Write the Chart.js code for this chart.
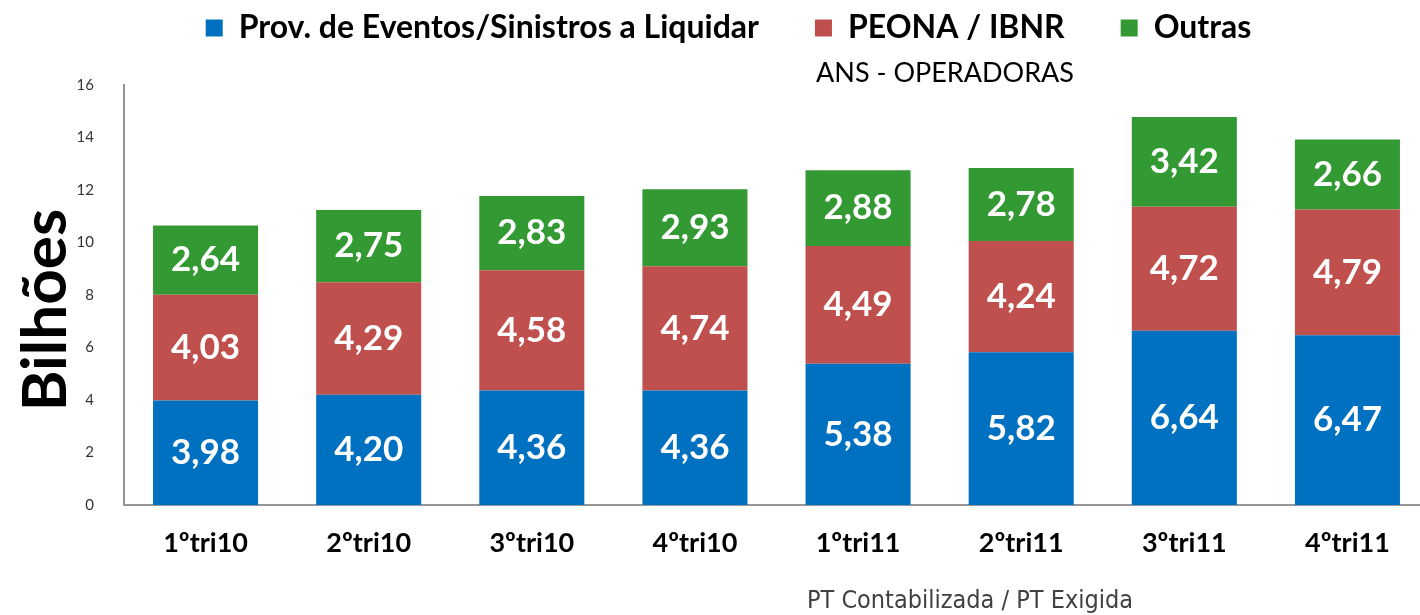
<!DOCTYPE html>
<html>
<head>
<meta charset="utf-8">
<script src="https://cdn.jsdelivr.net/npm/chart.js@4"></script>
<style>
  html, body { margin: 0; padding: 0; background: #fff; overflow: hidden; }
  /* the plot runs a few pixels past the right edge of the window in the original */
  #wrap { width: 1429px; height: 615px; }
</style>
</head>
<body>
<div id="wrap"><canvas id="ptChart"></canvas></div>
<script>
// data (bilhões)
const quarters = ['1ºtri10', '2ºtri10', '3ºtri10', '4ºtri10', '1ºtri11', '2ºtri11', '3ºtri11', '4ºtri11'];
const provEventos = [3.98, 4.20, 4.36, 4.36, 5.38, 5.82, 6.64, 6.47];
const peonaIbnr = [4.03, 4.29, 4.58, 4.74, 4.49, 4.24, 4.72, 4.79];
const outras = [2.64, 2.75, 2.83, 2.93, 2.88, 2.78, 3.42, 2.66];
const yTicks = [0, 2, 4, 6, 8, 10, 12, 14, 16];

const FONT = 'Lato, "Open Sans", sans-serif';

// white value labels in the middle of each segment
const segmentLabels = {
    id: 'segmentLabels',
    afterDatasetsDraw(chart) {
        const ctx = chart.ctx;
        ctx.save();
        ctx.fillStyle = '#ffffff';
        ctx.font = 'bold 35px ' + FONT;
        ctx.textAlign = 'center';
        ctx.textBaseline = 'middle';
        chart.data.datasets.forEach((ds, i) => {
            const meta = chart.getDatasetMeta(i);
            meta.data.forEach((bar, j) => {
                const txt = ds.data[j].toFixed(2).replace('.', ',');
                ctx.fillText(txt, bar.x, (bar.y + bar.base) / 2);
            });
        });
        ctx.restore();
    }
};

// captions: "ANS - OPERADORAS", the y title and the note at the bottom
const captions = {
    id: 'captions',
    afterDraw(chart) {
        const ctx = chart.ctx;
        ctx.save();
        ctx.textAlign = 'center';
        ctx.textBaseline = 'middle';
        ctx.fillStyle = '#000';
        ctx.font = '27px ' + FONT;
        ctx.fillText('ANS - OPERADORAS', 945, 73);

        ctx.save();
        ctx.translate(46, 310);
        ctx.rotate(-Math.PI / 2);
        ctx.font = 'bold 62px ' + FONT;
        ctx.fillText('Bilhões', 0, 0);
        ctx.restore();

        ctx.fillStyle = '#404040';
        ctx.font = '25px "Liberation Sans Narrow", "DejaVu Sans Condensed", sans-serif';
        ctx.fillText('PT Contabilizada / PT Exigida', 970, 601);
        ctx.restore();
    }
};

// fixed legend band; then move it so the items sit where they do in the original
// (labels.padding also pushes the row down, hence the negative top)
const legendBand = {
    id: 'legendBand',
    beforeInit(chart) {
        const origFit = chart.legend.fit;
        chart.legend.fit = function () {
            origFit.bind(chart.legend)();
            this.height = 85;
        };
    },
    afterLayout(chart) {
        const lg = chart.legend;
        lg.top = -44;
        lg.bottom = 60; // keep descenders inside the legend clip
        lg.left += 14;
        lg.right += 14;
    }
};

new Chart(document.getElementById('ptChart'), {
    type: 'bar',
    data: {
        labels: quarters,
        datasets: [
            { label: 'Prov. de Eventos/Sinistros a Liquidar', data: provEventos, backgroundColor: '#0070C0' },
            { label: 'PEONA / IBNR', data: peonaIbnr, backgroundColor: '#C0504D' },
            { label: 'Outras', data: outras, backgroundColor: '#339933' }
        ]
    },
    options: {
        responsive: true,
        maintainAspectRatio: false,
        animation: false,
        layout: { padding: 0 },
        datasets: {
            bar: { barPercentage: 0.644, categoryPercentage: 1.0 }
        },
        plugins: {
            legend: {
                position: 'top',
                labels: {
                    color: '#000',
                    font: { family: FONT, size: 32, weight: 'bold' },
                    boxWidth: 17,
                    boxHeight: 17,
                    padding: 56
                }
            },
            tooltip: { enabled: false }
        },
        scales: {
            x: {
                stacked: true,
                grid: { display: false },
                border: { display: true, color: '#969696', width: 2 },
                ticks: {
                    color: '#000',
                    font: { family: FONT, size: 27, weight: 'bold' },
                    padding: 14
                },
                afterFit(scale) { scale.height = 110; }
            },
            y: {
                stacked: true,
                min: 0,
                max: 16,
                afterBuildTicks(scale) { scale.ticks = yTicks.map(v => ({ value: v })); },
                grid: { display: false },
                border: { display: true, color: '#969696', width: 2 },
                ticks: {
                    color: '#333',
                    font: { family: FONT, size: 15 },
                    padding: 22
                },
                afterFit(scale) { scale.width = 124; }
            }
        }
    },
    plugins: [segmentLabels, captions, legendBand]
});
</script>
</body>
</html>
